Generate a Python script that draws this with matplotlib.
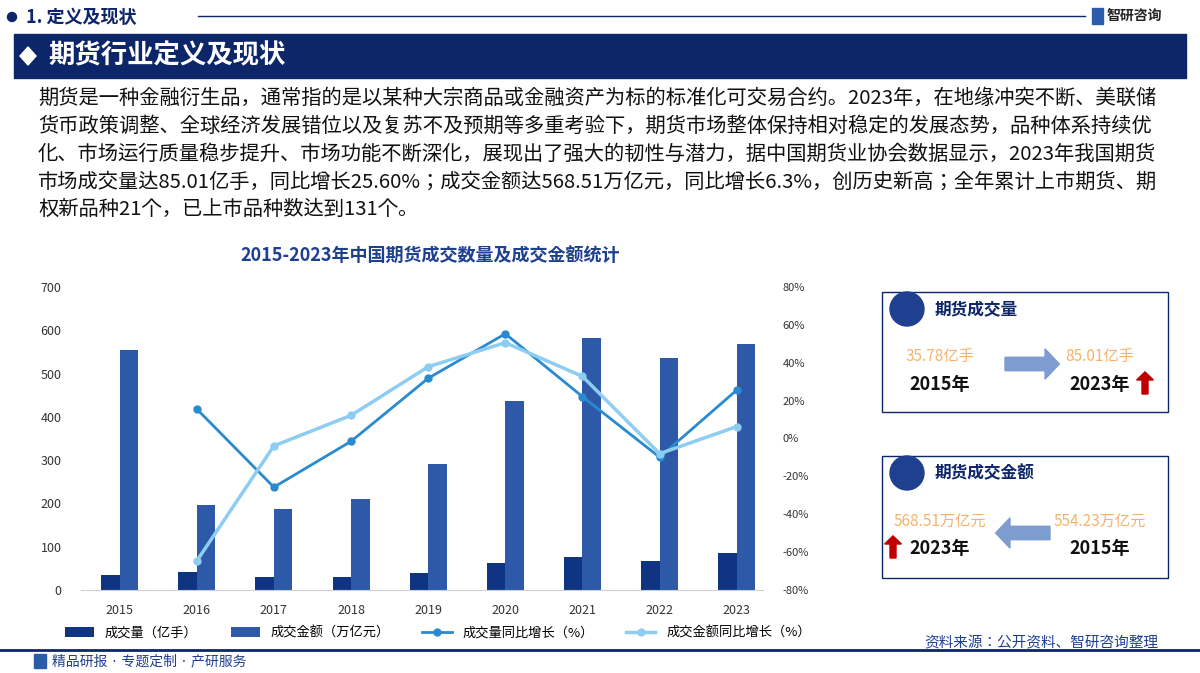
import matplotlib
matplotlib.use('Agg')
import matplotlib.pyplot as plt
from matplotlib import font_manager
from matplotlib.patches import Rectangle, FancyArrow, Polygon, Ellipse
import numpy as np

# pick an installed CJK family
names = {f.name for f in font_manager.fontManager.ttflist}
cjk = [n for n in ['Noto Sans CJK SC', 'Noto Sans CJK JP', 'Noto Sans CJK TC', 'Noto Sans CJK KR'] if n in names]
if not cjk:
    cjk = sorted(n for n in names if 'CJK' in n)
plt.rcParams['font.family'] = 'sans-serif'
plt.rcParams['font.sans-serif'] = cjk + ['DejaVu Sans']

# %% Data.
years = ['2015', '2016', '2017', '2018', '2019', '2020', '2021', '2022', '2023']
volume = [35.78, 41.4, 30.8, 30.3, 39.2, 61.5, 75.1, 67.7, 85.01]
amount = [554.23, 195.6, 187.9, 210.8, 290.6, 437.5, 581.2, 534.9, 568.51]
vol_growth = [np.nan, 15.6, -25.7, -1.5, 31.8, 55.3, 22.1, -9.9, 25.6]
amt_growth = [np.nan, -64.7, -3.9, 12.2, 37.9, 50.6, 32.8, -8.0, 6.3]

W, H = 1200, 673
fig = plt.figure(figsize=(12, 6.73), dpi=100)
navy = '#0d2669'


def fx(x):
    return x / W


def fy(y):
    return 1 - y / H


# %% Header.
fig.patches.append(Ellipse((fx(12), fy(17)), fx(9), 9 / H, transform=fig.transFigure, color=navy))
fig.text(fx(26), fy(17), '1. 定义及现状', fontsize=13, fontweight='bold', color=navy, va='center')
fig.add_artist(plt.Line2D([fx(198), fx(1085)], [fy(16), fy(16)], color=navy, lw=1))
fig.text(fx(1107), fy(16), '智研咨询', fontsize=10, fontweight='bold', color='#222', va='center')
fig.patches.append(Rectangle((fx(1092), fy(24)), fx(11), 16 / H, transform=fig.transFigure, color='#2a5caa'))
fig.patches.append(Rectangle((fx(14), fy(78)), fx(1172), 44 / H, transform=fig.transFigure, color=navy))
fig.patches.append(Polygon([(fx(20), fy(56)), (fx(28), fy(47)), (fx(36), fy(56)), (fx(28), fy(65))],
                           transform=fig.transFigure, color='white'))
fig.text(fx(48), fy(56), '期货行业定义及现状', fontsize=19, fontweight='bold', color='white', va='center')

para = ('期货是一种金融衍生品，通常指的是以某种大宗商品或金融资产为标的标准化可交易合约。2023年，在地缘冲突不断、美联储\n'
        '货币政策调整、全球经济发展错位以及复苏不及预期等多重考验下，期货市场整体保持相对稳定的发展态势，品种体系持续优\n'
        '化、市场运行质量稳步提升、市场功能不断深化，展现出了强大的韧性与潜力，据中国期货业协会数据显示，2023年我国期货\n'
        '市场成交量达85.01亿手，同比增长25.60%；成交金额达568.51万亿元，同比增长6.3%，创历史新高；全年累计上市期货、期\n'
        '权新品种21个，已上市品种数达到131个。')
fig.text(fx(38), fy(88), para, fontsize=14.6, color='#111', va='top', linespacing=1.42)

fig.text(fx(430), fy(256), '2015-2023年中国期货成交数量及成交金额统计', fontsize=13,
         fontweight='bold', color='#1f3f8f', ha='center', va='center')

# %% Chart.
ax = fig.add_axes([fx(81), fy(590), fx(682), (590 - 287) / H])
x = np.arange(len(years))
bw = 0.24
ax.bar(x - bw / 2, volume, bw, color='#0f3582', label='成交量（亿手）')
ax.bar(x + bw / 2, amount, bw, color='#2d59a8', label='成交金额（万亿元）')
ax.set_ylim(0, 700)
ax.set_yticks(range(0, 701, 100))
ax.set_xlim(-0.5, 8.34)
ax.set_xticks(x)
ax.set_xticklabels(years)
for s in ['top', 'right', 'left']:
    ax.spines[s].set_visible(False)
ax.spines['bottom'].set_color('#d0d0d0')
ax.tick_params(length=0, labelsize=9, colors='#333')
ax.tick_params(axis='y', pad=14)
ax.tick_params(axis='x', pad=10)

ax2 = ax.twinx()
l1, = ax2.plot(x, vol_growth, color='#2a8ad0', lw=2, marker='o', ms=5, label='成交量同比增长（%）')
l2, = ax2.plot(x, amt_growth, color='#8ecdf2', lw=2.5, marker='o', ms=5, label='成交金额同比增长（%）')
ax2.set_ylim(-80, 80)
ax2.set_yticks(range(-80, 81, 20))
ax2.set_yticklabels([f'{v}%' for v in range(-80, 81, 20)])
for s in ax2.spines.values():
    s.set_visible(False)
ax2.tick_params(length=0, labelsize=8, colors='#333', pad=14)

h1, lb1 = ax.get_legend_handles_labels()
fig.legend(h1 + [l1, l2], lb1 + [l1.get_label(), l2.get_label()], ncol=4, frameon=False,
           loc='center', bbox_to_anchor=(fx(438), fy(633)), fontsize=9.5, handlelength=2.2,
           columnspacing=2.5)

# %% Side panels.
def panel(y0, y1, title, lv, ly, rv, ry, arrow_right, up_left):
    fig.patches.append(Rectangle((fx(882), fy(y1)), fx(286), (y1 - y0) / H, transform=fig.transFigure,
                                 fill=False, ec=navy, lw=1))
    fig.patches.append(Ellipse((fx(907), fy(y0 + 17)), fx(34), 34 / H, transform=fig.transFigure, color='#1f3f8f'))
    fig.text(fx(935), fy(y0 + 17), title, fontsize=12, fontweight='bold', color=navy, va='center')
    fig.text(fx(940), fy(y0 + 65), lv, fontsize=11, color='#f5b36a', ha='center', va='center')
    fig.text(fx(940), fy(y0 + 93), ly, fontsize=13, fontweight='bold', color='#111', ha='center', va='center')
    fig.text(fx(1100), fy(y0 + 65), rv, fontsize=11, color='#f5b36a', ha='center', va='center')
    fig.text(fx(1100), fy(y0 + 93), ry, fontsize=13, fontweight='bold', color='#111', ha='center', va='center')
    if arrow_right:
        fig.patches.append(FancyArrow(fx(1005), fy(y0 + 72), fx(40), 0, width=0.02, head_width=0.045,
                                      head_length=0.012, transform=fig.transFigure, color='#7d9cd0'))
    else:
        fig.patches.append(FancyArrow(fx(1050), fy(y0 + 77), -fx(40), 0, width=0.02, head_width=0.045,
                                      head_length=0.012, transform=fig.transFigure, color='#7d9cd0'))
    ux = fx(893) if up_left else fx(1145)
    fig.patches.append(FancyArrow(ux, fy(y0 + 102), 0, 14 / H, width=0.005, head_width=0.014,
                                  head_length=0.012, transform=fig.transFigure, color='#c00000'))


panel(292, 412, '期货成交量', '35.78亿手', '2015年', '85.01亿手', '2023年', True, False)
panel(456, 578, '期货成交金额', '568.51万亿元', '2023年', '554.23万亿元', '2015年', False, True)

# %% Footer.
fig.add_artist(plt.Line2D([fx(0), fx(1200)], [fy(650), fy(650)], color=navy, lw=2))
fig.text(fx(1158), fy(643), '资料来源：公开资料、智研咨询整理', fontsize=10.5, color='#1f3f8f', ha='right', va='center')
fig.text(fx(52), fy(661), '精品研报 · 专题定制 · 产研服务', fontsize=10, color='#1f3f8f', va='center')
fig.patches.append(Rectangle((fx(34), fy(668)), fx(12), 14 / H, transform=fig.transFigure, color='#2a5caa'))

fig.savefig('out.png', dpi=100)
